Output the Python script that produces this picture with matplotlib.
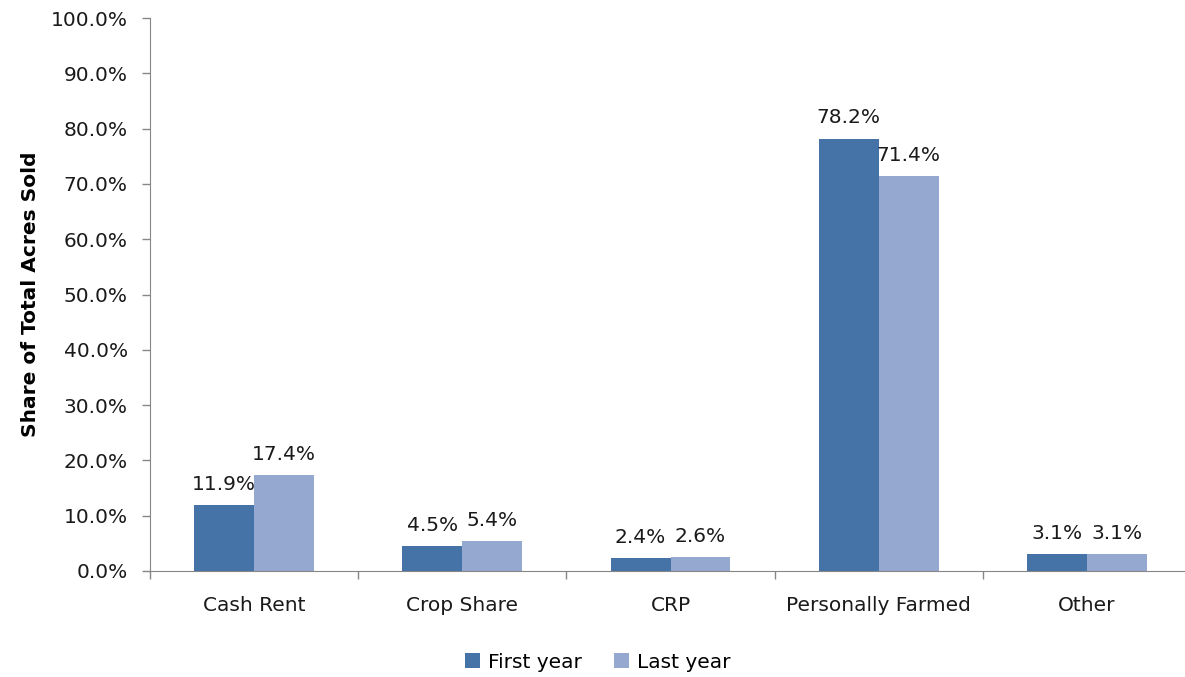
import numpy as np
import matplotlib
matplotlib.use("Agg")
import matplotlib.pyplot as plt
from matplotlib.ticker import PercentFormatter

categories = ["Cash Rent", "Crop Share", "CRP", "Personally Farmed", "Other"]
first_year = [11.9, 4.5, 2.4, 78.2, 3.1]
last_year = [17.4, 5.4, 2.6, 71.4, 3.1]
series_names = ["First year", "Last year"]
colors = ["#4572A7", "#95A9D0"]

plt.rcParams['font.family'] = ['DejaVu Sans']
fs = 14.5

fig = plt.figure(figsize=(11.85, 6.77), dpi=100)
ax = fig.add_axes([150 / 1185, 106 / 677, 1041 / 1185, 553 / 677])

x = np.arange(len(categories))
w = 0.288
bars1 = ax.bar(x - w / 2, first_year, w, color=colors[0], label=series_names[0])
bars2 = ax.bar(x + w / 2, last_year, w, color=colors[1], label=series_names[1])

# data labels above each bar
for bars, vals in [(bars1, first_year), (bars2, last_year)]:
    for b, v in zip(bars, vals):
        ax.annotate(f"{v:.1f}%", (b.get_x() + b.get_width() / 2, v),
                    xytext=(0, 8), textcoords="offset points",
                    ha="center", va="bottom", fontsize=fs, color="#1a1a1a")

ax.set_xlim(-0.5, len(categories) - 0.5)
ax.set_ylim(0, 100)
ax.set_yticks(np.arange(0, 101, 10))
ax.yaxis.set_major_formatter(PercentFormatter(decimals=1))
ax.set_xticks(x)
ax.set_xticklabels(categories)
ax.set_xticks(np.arange(-0.5, len(categories), 1), minor=True)
ax.tick_params(axis="x", which="major", length=0, pad=18, labelsize=fs, colors="#1a1a1a")
ax.tick_params(axis="x", which="minor", length=6, color="#868686", width=1)
ax.tick_params(axis="y", length=6, color="#868686", width=1, labelsize=fs,
               labelcolor="#1a1a1a", pad=10)

for s in ["top", "right"]:
    ax.spines[s].set_visible(False)
for s in ["left", "bottom"]:
    ax.spines[s].set_color("#868686")

ax.set_ylabel("Share of Total Acres Sold", fontsize=14.5, fontweight="bold", labelpad=8)

fig.legend(loc="center", bbox_to_anchor=(598 / 1185, 1 - 662 / 677), ncol=2,
           frameon=False, fontsize=fs, handlelength=0.75, handleheight=0.75,
           handletextpad=0.4, columnspacing=1.6)

fig.savefig("out.png", dpi=100)
